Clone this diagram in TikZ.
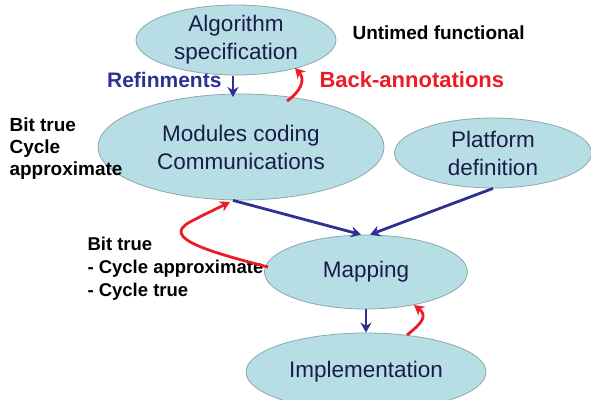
\documentclass[tikz,border=0pt]{standalone}
\usepackage{fontspec}
\setmainfont{Liberation Sans}
\usepackage{xcolor}
\usetikzlibrary{positioning, arrows.meta, shapes.geometric}

\definecolor{cellfill}{HTML}{B7DEE4}
\definecolor{celledge}{HTML}{8AA8AC}
\definecolor{navytext}{HTML}{1B1B4B}
\definecolor{navyline}{HTML}{2E3192}
\definecolor{redline}{HTML}{ED1C24}

\tikzset{
    stage/.style={ellipse, fill=cellfill, draw=celledge, thick, inner sep=0pt,
        text=navytext, align=center, font=\fontsize{22.5}{28}\selectfont},
    flow/.style={-{Stealth[length=10pt, width=11pt]}, draw=navyline, line width=2.8pt},
    back/.style={-{Stealth[length=10pt, width=11pt]}, draw=redline, line width=2.8pt},
    level/.style={align=left, anchor=west, font=\bfseries\fontsize{18.5}{23}\selectfont}
}

\begin{document}
\begin{tikzpicture}[x=1pt, y=-1pt]
    \useasboundingbox (0,0) rectangle (591,399);

    % Stages
    \node[stage, minimum width=200pt, minimum height=70pt] (algo) at (236,40) {Algorithm\\specification};
    \node[stage, minimum width=286pt, minimum height=106pt] (modules) at (241,147) {Modules coding\\Communications};
    \node[stage, minimum width=197pt, minimum height=70pt] (platform) at (493,153) {Platform\\definition};
    \node[stage, minimum width=203pt, minimum height=74pt] (mapping) at (366,272) {Mapping};
    \node[stage, minimum width=240pt, minimum height=78pt] (impl) at (366,372) {Implementation};

    % Abstraction levels
    \node[font=\bfseries\fontsize{19}{23}\selectfont, anchor=west] (untimed) at (349,33) {Untimed functional};
    \node[level, font=\bfseries\fontsize{19}{22}\selectfont] (approx) at (6,149) {Bit true\\Cycle\\approximate};
    \node[level] (exact) at (84,269) {Bit true\\- Cycle approximate\\- Cycle true};

    % Refinements
    \node[text=navyline, font=\bfseries\fontsize{21}{25}\selectfont, anchor=east] (refin) at (225,80) {Refinments};
    \coordinate (r1) at (233,76);
    \coordinate (r2) at (233,97);
    \draw[flow] (r1) -- (r2);
    \draw[flow] (modules.south) ++(-8,0) coordinate (m1) -- ([xshift=-5pt]mapping.north);
    \draw[flow] (platform.south) -- ([xshift=4pt]mapping.north);
    \draw[flow] (mapping.south) -- (impl.north);

    % Back-annotations
    \node[text=redline, font=\bfseries\fontsize{22}{26}\selectfont, anchor=west] (backann) at (316,80) {Back-annotations};
    \coordinate (b1) at (287,101);
    \coordinate (b2) at (295,68);
    \draw[back] (b1) .. controls (300,92) and (306,80) .. (b2);
    \coordinate (b3) at (268,267);
    \coordinate (b4) at (230,202);
    \draw[back] (b3) .. controls (210,252) and (160,238) .. (190,222) .. controls (205,214) and (218,208) .. (b4);
    \coordinate (b5) at (407,335);
    \coordinate (b6) at (414,305);
    \draw[back] (b5) .. controls (422,323) and (428,316) .. (b6);
\end{tikzpicture}
\end{document}
